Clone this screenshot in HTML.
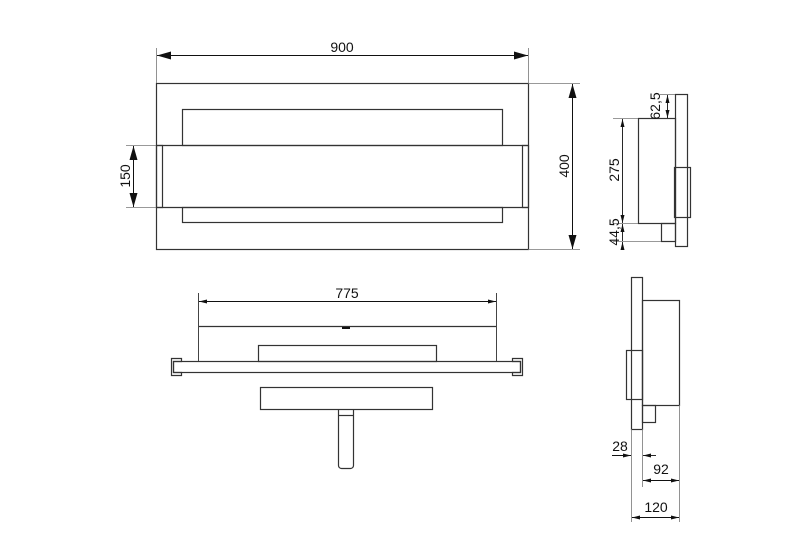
<!DOCTYPE html>
<html><head><style>body{margin:0;background:#fff}svg{display:block}text{font-family:"Liberation Sans",sans-serif;font-size:14px;fill:#111}</style></head>
<body>
<svg width="810" height="545" viewBox="0 0 810 545" xmlns="http://www.w3.org/2000/svg">
<defs>
<marker id="a" viewBox="0 0 14 8" refX="14" refY="4" markerWidth="15" markerHeight="8" orient="auto-start-reverse" markerUnits="userSpaceOnUse"><path d="M0,0L14,4L0,8z" fill="#111"/></marker>
<marker id="s" viewBox="0 0 8 4" refX="8" refY="2" markerWidth="8" markerHeight="4" orient="auto-start-reverse" markerUnits="userSpaceOnUse"><path d="M0,0L8,2L0,4z" fill="#111"/></marker>
</defs>
<g fill="none" stroke="#333" stroke-width="1.2">
<rect x="156.5" y="83.5" width="372" height="166"/>
<rect x="182.5" y="109.5" width="320" height="36"/>
<rect x="182.5" y="207.5" width="320" height="15"/>
<line x1="156" y1="145.5" x2="528" y2="145.5"/>
<line x1="156" y1="207.5" x2="528" y2="207.5"/>
<rect x="156.5" y="145.5" width="6" height="62"/>
<rect x="522.5" y="145.5" width="6" height="62"/>
</g>
<g fill="none" stroke="#777" stroke-width="0.8">
<line x1="156.5" y1="48" x2="156.5" y2="83"/><line x1="528.5" y1="48" x2="528.5" y2="83"/>
<line x1="528" y1="83.5" x2="580" y2="83.5"/><line x1="528" y1="249.5" x2="580" y2="249.5"/>
<line x1="126" y1="145.5" x2="156" y2="145.5"/><line x1="126" y1="207.5" x2="156" y2="207.5"/>
</g>
<g stroke="#111" stroke-width="1">
<line x1="157" y1="55.5" x2="528" y2="55.5" marker-start="url(#a)" marker-end="url(#a)"/>
<line x1="572.5" y1="84" x2="572.5" y2="249" marker-start="url(#a)" marker-end="url(#a)"/>
<line x1="133.5" y1="146" x2="133.5" y2="207" marker-start="url(#a)" marker-end="url(#a)"/>
</g>
<text x="342" y="52" text-anchor="middle">900</text>
<text transform="translate(569,166) rotate(-90)" text-anchor="middle">400</text>
<text transform="translate(130,176) rotate(-90)" text-anchor="middle">150</text>

<g fill="none" stroke="#333" stroke-width="1.2">
<line x1="198" y1="326.5" x2="496" y2="326.5"/>
<rect x="258.5" y="345.5" width="178" height="16"/>
<rect x="173.5" y="361.5" width="347" height="11"/>
<path d="M171.5 358.5h10v3h-8v11h8v3h-10z"/>
<path d="M522.5 358.5h-10v3h8v11h-8v3h10z"/>
<rect x="260.5" y="387.5" width="172" height="22"/>
<path d="M338.5 409.5v56a3 3 0 0 0 3 3h9a3 3 0 0 0 3-3v-56"/>
<line x1="338" y1="415.5" x2="353" y2="415.5"/>
</g>
<line x1="342" y1="328" x2="350" y2="328" stroke="#111" stroke-width="2"/>
<g stroke="#444" stroke-width="1">
<line x1="198.5" y1="293" x2="198.5" y2="361"/><line x1="496.5" y1="293" x2="496.5" y2="361"/>
</g>
<line x1="199" y1="301.5" x2="496" y2="301.5" stroke="#111" stroke-width="1" marker-start="url(#s)" marker-end="url(#s)"/>
<text x="347" y="298" text-anchor="middle">775</text>

<g fill="none" stroke="#333" stroke-width="1.2">
<rect x="675.5" y="94.5" width="12" height="152"/>
<rect x="638.5" y="118.5" width="37" height="105"/>
<rect x="661.5" y="223.5" width="14" height="18"/>
<rect x="674.5" y="167.5" width="16" height="50"/>
</g>
<g stroke="#777" stroke-width="0.8">
<line x1="660" y1="94.5" x2="675" y2="94.5"/>
<line x1="613" y1="118.5" x2="638" y2="118.5"/>
<line x1="613" y1="223.5" x2="638" y2="223.5"/>
<line x1="613" y1="241.5" x2="661" y2="241.5"/>
</g>
<g stroke="#111" stroke-width="0.9">
<line x1="667.5" y1="95" x2="667.5" y2="118" marker-start="url(#s)" marker-end="url(#s)"/>
<line x1="622.5" y1="119" x2="622.5" y2="223" marker-start="url(#s)" marker-end="url(#s)"/>
<line x1="622.5" y1="224" x2="622.5" y2="241" marker-start="url(#s)"/>
<line x1="622.5" y1="250" x2="622.5" y2="242" marker-end="url(#s)"/>
</g>
<text transform="translate(660,106) rotate(-90)" text-anchor="middle" font-size="12">62,5</text>
<text transform="translate(619,170) rotate(-90)" text-anchor="middle" font-size="13">275</text>
<text transform="translate(619,232) rotate(-90)" text-anchor="middle" font-size="12">44,5</text>

<g fill="none" stroke="#333" stroke-width="1.2">
<rect x="631.5" y="277.5" width="11" height="152"/>
<rect x="642.5" y="300.5" width="37" height="105"/>
<rect x="642.5" y="405.5" width="13" height="17"/>
<rect x="626.5" y="350.5" width="16" height="49"/>
</g>
<g stroke="#777" stroke-width="0.8">
<line x1="631.5" y1="429" x2="631.5" y2="522"/>
<line x1="642.5" y1="429" x2="642.5" y2="487"/>
<line x1="679.5" y1="405" x2="679.5" y2="522"/>
</g>
<g stroke="#111" stroke-width="0.9">
<line x1="612" y1="455.5" x2="631" y2="455.5" marker-end="url(#s)"/>
<line x1="656" y1="455.5" x2="643" y2="455.5" marker-end="url(#s)"/>
<line x1="643" y1="480.5" x2="679" y2="480.5" marker-start="url(#s)" marker-end="url(#s)"/>
<line x1="632" y1="517.5" x2="679" y2="517.5" marker-start="url(#s)" marker-end="url(#s)"/>
</g>
<text x="620" y="451" text-anchor="middle" font-size="13">28</text>
<text x="661" y="474" text-anchor="middle" font-size="13">92</text>
<text x="656" y="512" text-anchor="middle" font-size="13">120</text>
</svg>
</body></html>
